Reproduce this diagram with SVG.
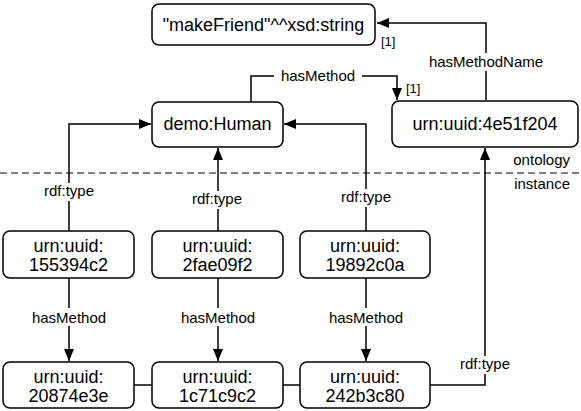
<svg xmlns="http://www.w3.org/2000/svg" width="581" height="411" viewBox="0 0 581 411">
<defs>
<marker id="ah" viewBox="0 0 12 10" refX="12" refY="5" markerWidth="12" markerHeight="10" markerUnits="userSpaceOnUse" orient="auto">
<path d="M0,0 L12,5 L0,10 z" fill="#000"/>
</marker>
<style>
.box{fill:#fff;stroke:#000;stroke-width:1.5}
.t{font-family:"Liberation Sans",Arial,sans-serif;font-size:18px;text-anchor:middle;fill:#000}
.l{font-family:"Liberation Sans",Arial,sans-serif;font-size:15px;text-anchor:middle;fill:#000}
.r{text-anchor:end}
.s{font-family:"Liberation Sans",Arial,sans-serif;font-size:13px;fill:#000}
.c{fill:none;stroke:#000;stroke-width:1.5}
.a{marker-end:url(#ah)}
.lb{fill:#fff}
</style>
</defs>
<rect width="581" height="411" fill="#fff"/>
<line x1="0" y1="173" x2="581" y2="173" stroke="#000" stroke-width="1" stroke-dasharray="7,4"/>
<text class="l r" x="570" y="165">ontology</text>
<text class="l r" x="570" y="189">instance</text>
<g id="connectors">
<path class="c a" d="M486,100 V23 H377"/>
<path class="c a" d="M251,102 V76 H397 V100"/>
<path class="c a" d="M69,231 V124 H151"/>
<path class="c a" d="M218,231 V148"/>
<path class="c a" d="M366,231 V124 H284"/>
<path class="c a" d="M69,278 V361"/>
<path class="c a" d="M218,278 V361"/>
<path class="c a" d="M366,278 V361"/>
<path class="c" d="M134,385 H152"/>
<path class="c" d="M283,385 H300"/>
<path class="c a" d="M430,385 H485 V148"/>
<rect class="lb" x="424" y="53" width="124" height="18"/>
<text class="l" x="486" y="67">hasMethodName</text>
<rect class="lb" x="274" y="67" width="88" height="18"/>
<text class="l" x="318" y="81">hasMethod</text>
<text class="s" x="381" y="46">[1]</text>
<text class="s" x="406" y="93">[1]</text>
<rect class="lb" x="38" y="183" width="62" height="18"/>
<text class="l" x="69" y="196">rdf:type</text>
<rect class="lb" x="187" y="191" width="62" height="18"/>
<text class="l" x="217" y="204">rdf:type</text>
<rect class="lb" x="335" y="189" width="62" height="18"/>
<text class="l" x="366" y="202">rdf:type</text>
<rect class="lb" x="30" y="308" width="78" height="18"/>
<text class="l" x="69" y="323">hasMethod</text>
<rect class="lb" x="179" y="308" width="78" height="18"/>
<text class="l" x="218" y="323">hasMethod</text>
<rect class="lb" x="327" y="308" width="78" height="18"/>
<text class="l" x="366" y="323">hasMethod</text>
<rect class="lb" x="455" y="356" width="60" height="18"/>
<text class="l" x="485" y="369">rdf:type</text>
</g>
<g id="n_makeFriend"><rect class="box" x="152" y="4" width="223" height="41" rx="7"/><text class="t" x="263.5" y="31">"makeFriend"^^xsd:string</text></g>
<g id="n_human"><rect class="box" x="152" y="102" width="131" height="45" rx="7"/><text class="t" x="217.5" y="130">demo:Human</text></g>
<g id="n_4e51f204"><rect class="box" x="392" y="101" width="186" height="46" rx="7"/><text class="t" x="485" y="130">urn:uuid:4e51f204</text></g>
<g id="n_155394c2"><rect class="box" x="3" y="231" width="131" height="47" rx="7"/><text class="t" x="68.5" y="252">urn:uuid:</text><text class="t" x="68.5" y="271">155394c2</text></g>
<g id="n_2fae09f2"><rect class="box" x="152" y="231" width="131" height="47" rx="7"/><text class="t" x="217.5" y="252">urn:uuid:</text><text class="t" x="217.5" y="271">2fae09f2</text></g>
<g id="n_19892c0a"><rect class="box" x="300" y="231" width="130" height="47" rx="7"/><text class="t" x="365" y="252">urn:uuid:</text><text class="t" x="365" y="271">19892c0a</text></g>
<g id="n_20874e3e"><rect class="box" x="3" y="362" width="131" height="46" rx="7"/><text class="t" x="68.5" y="383">urn:uuid:</text><text class="t" x="68.5" y="402">20874e3e</text></g>
<g id="n_1c71c9c2"><rect class="box" x="152" y="362" width="131" height="46" rx="7"/><text class="t" x="217.5" y="383">urn:uuid:</text><text class="t" x="217.5" y="402">1c71c9c2</text></g>
<g id="n_242b3c80"><rect class="box" x="300" y="362" width="130" height="46" rx="7"/><text class="t" x="365" y="383">urn:uuid:</text><text class="t" x="365" y="402">242b3c80</text></g>
</svg>
